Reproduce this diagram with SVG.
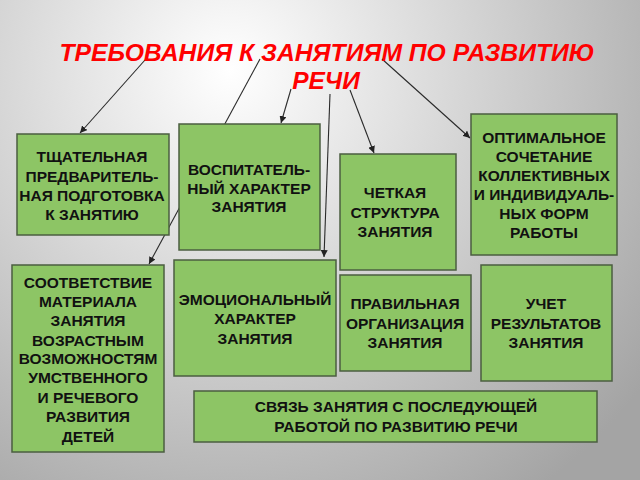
<svg xmlns="http://www.w3.org/2000/svg" width="640" height="480" viewBox="0 0 640 480">
<defs>
<radialGradient id="bg" cx="230" cy="70" r="520" gradientUnits="userSpaceOnUse">
<stop offset="0" stop-color="#ffffff"/>
<stop offset="0.45" stop-color="#d6d6d6"/>
<stop offset="1" stop-color="#a4a4a4"/>
</radialGradient>
<marker id="ah" viewBox="0 0 10 10" refX="10" refY="5" markerWidth="7" markerHeight="7" markerUnits="userSpaceOnUse" orient="auto">
<path d="M0,0 L10,5 L0,10 z" fill="#222"/>
</marker>
<style>
.box{fill:#8dc565;stroke:#4b5e40;stroke-width:1.5}
.t{font-family:"Liberation Sans",Arial,sans-serif;font-weight:bold;font-size:15.5px;fill:#111;text-anchor:middle}
.c{fill:none;stroke:#2a2a2a;stroke-width:1.1;marker-end:url(#ah)}
.title{font-family:"Liberation Sans",Arial,sans-serif;font-weight:bold;font-style:italic;font-size:24.5px;fill:#ff0000;text-anchor:middle}
</style>
</defs>
<rect width="640" height="480" fill="url(#bg)"/>
<g id="connectors">
<line class="c" x1="145" y1="60" x2="80" y2="133"/>
<line class="c" x1="260" y1="59" x2="149" y2="264"/>
<line class="c" x1="291" y1="89" x2="281" y2="123"/>
<line class="c" x1="330" y1="94" x2="324" y2="257"/>
<line class="c" x1="350" y1="90" x2="374" y2="153"/>
<line class="c" x1="382" y1="59" x2="470" y2="138"/>
</g>
<g id="n1">
<rect class="box" x="17" y="134" width="152" height="101"/>
<text class="t" x="92" y="162">ТЩАТЕЛЬНАЯ</text>
<text class="t" x="92" y="182">ПРЕДВАРИТЕЛЬ-</text>
<text class="t" x="92" y="201">НАЯ ПОДГОТОВКА</text>
<text class="t" x="92" y="220">К ЗАНЯТИЮ</text>
</g>
<g id="n2">
<rect class="box" x="179" y="124" width="141" height="126"/>
<text class="t" x="249" y="175">ВОСПИТАТЕЛЬ-</text>
<text class="t" x="249" y="194">НЫЙ ХАРАКТЕР</text>
<text class="t" x="249" y="212">ЗАНЯТИЯ</text>
</g>
<g id="n3">
<rect class="box" x="340" y="154" width="116" height="116"/>
<text class="t" x="395" y="198">ЧЕТКАЯ</text>
<text class="t" x="395" y="218">СТРУКТУРА</text>
<text class="t" x="395" y="237">ЗАНЯТИЯ</text>
</g>
<g id="n4">
<rect class="box" x="471" y="114" width="146" height="141"/>
<text class="t" x="544" y="143">ОПТИМАЛЬНОЕ</text>
<text class="t" x="544" y="162">СОЧЕТАНИЕ</text>
<text class="t" x="544" y="181">КОЛЛЕКТИВНЫХ</text>
<text class="t" x="544" y="200">И ИНДИВИДУАЛЬ-</text>
<text class="t" x="544" y="219">НЫХ ФОРМ</text>
<text class="t" x="544" y="238">РАБОТЫ</text>
</g>
<g id="n5">
<rect class="box" x="12" y="265" width="152" height="187"/>
<text class="t" x="88" y="288">СООТВЕТСТВИЕ</text>
<text class="t" x="88" y="307">МАТЕРИАЛА</text>
<text class="t" x="88" y="326">ЗАНЯТИЯ</text>
<text class="t" x="88" y="346">ВОЗРАСТНЫМ</text>
<text class="t" x="88" y="364">ВОЗМОЖНОСТЯМ</text>
<text class="t" x="88" y="383">УМСТВЕННОГО</text>
<text class="t" x="88" y="403">И РЕЧЕВОГО</text>
<text class="t" x="88" y="422">РАЗВИТИЯ</text>
<text class="t" x="88" y="442">ДЕТЕЙ</text>
</g>
<g id="n6">
<rect class="box" x="174" y="260" width="162" height="116"/>
<text class="t" x="255" y="305">ЭМОЦИОНАЛЬНЫЙ</text>
<text class="t" x="255" y="324">ХАРАКТЕР</text>
<text class="t" x="255" y="344">ЗАНЯТИЯ</text>
</g>
<g id="n7">
<rect class="box" x="340" y="275" width="131" height="96"/>
<text class="t" x="405" y="309">ПРАВИЛЬНАЯ</text>
<text class="t" x="405" y="329">ОРГАНИЗАЦИЯ</text>
<text class="t" x="405" y="348">ЗАНЯТИЯ</text>
</g>
<g id="n8">
<rect class="box" x="481" y="265" width="131" height="116"/>
<text class="t" x="546" y="309">УЧЕТ</text>
<text class="t" x="546" y="329">РЕЗУЛЬТАТОВ</text>
<text class="t" x="546" y="348">ЗАНЯТИЯ</text>
</g>
<g id="n9">
<rect class="box" x="194" y="391" width="403" height="51"/>
<text class="t" x="396" y="412">СВЯЗЬ ЗАНЯТИЯ С ПОСЛЕДУЮЩЕЙ</text>
<text class="t" x="396" y="432">РАБОТОЙ ПО РАЗВИТИЮ РЕЧИ</text>
</g>
<g id="title">
<text class="title" x="327" y="61" textLength="535" lengthAdjust="spacingAndGlyphs">ТРЕБОВАНИЯ К ЗАНЯТИЯМ ПО РАЗВИТИЮ</text>
<text class="title" x="326" y="89">РЕЧИ</text>
</g>
</svg>
